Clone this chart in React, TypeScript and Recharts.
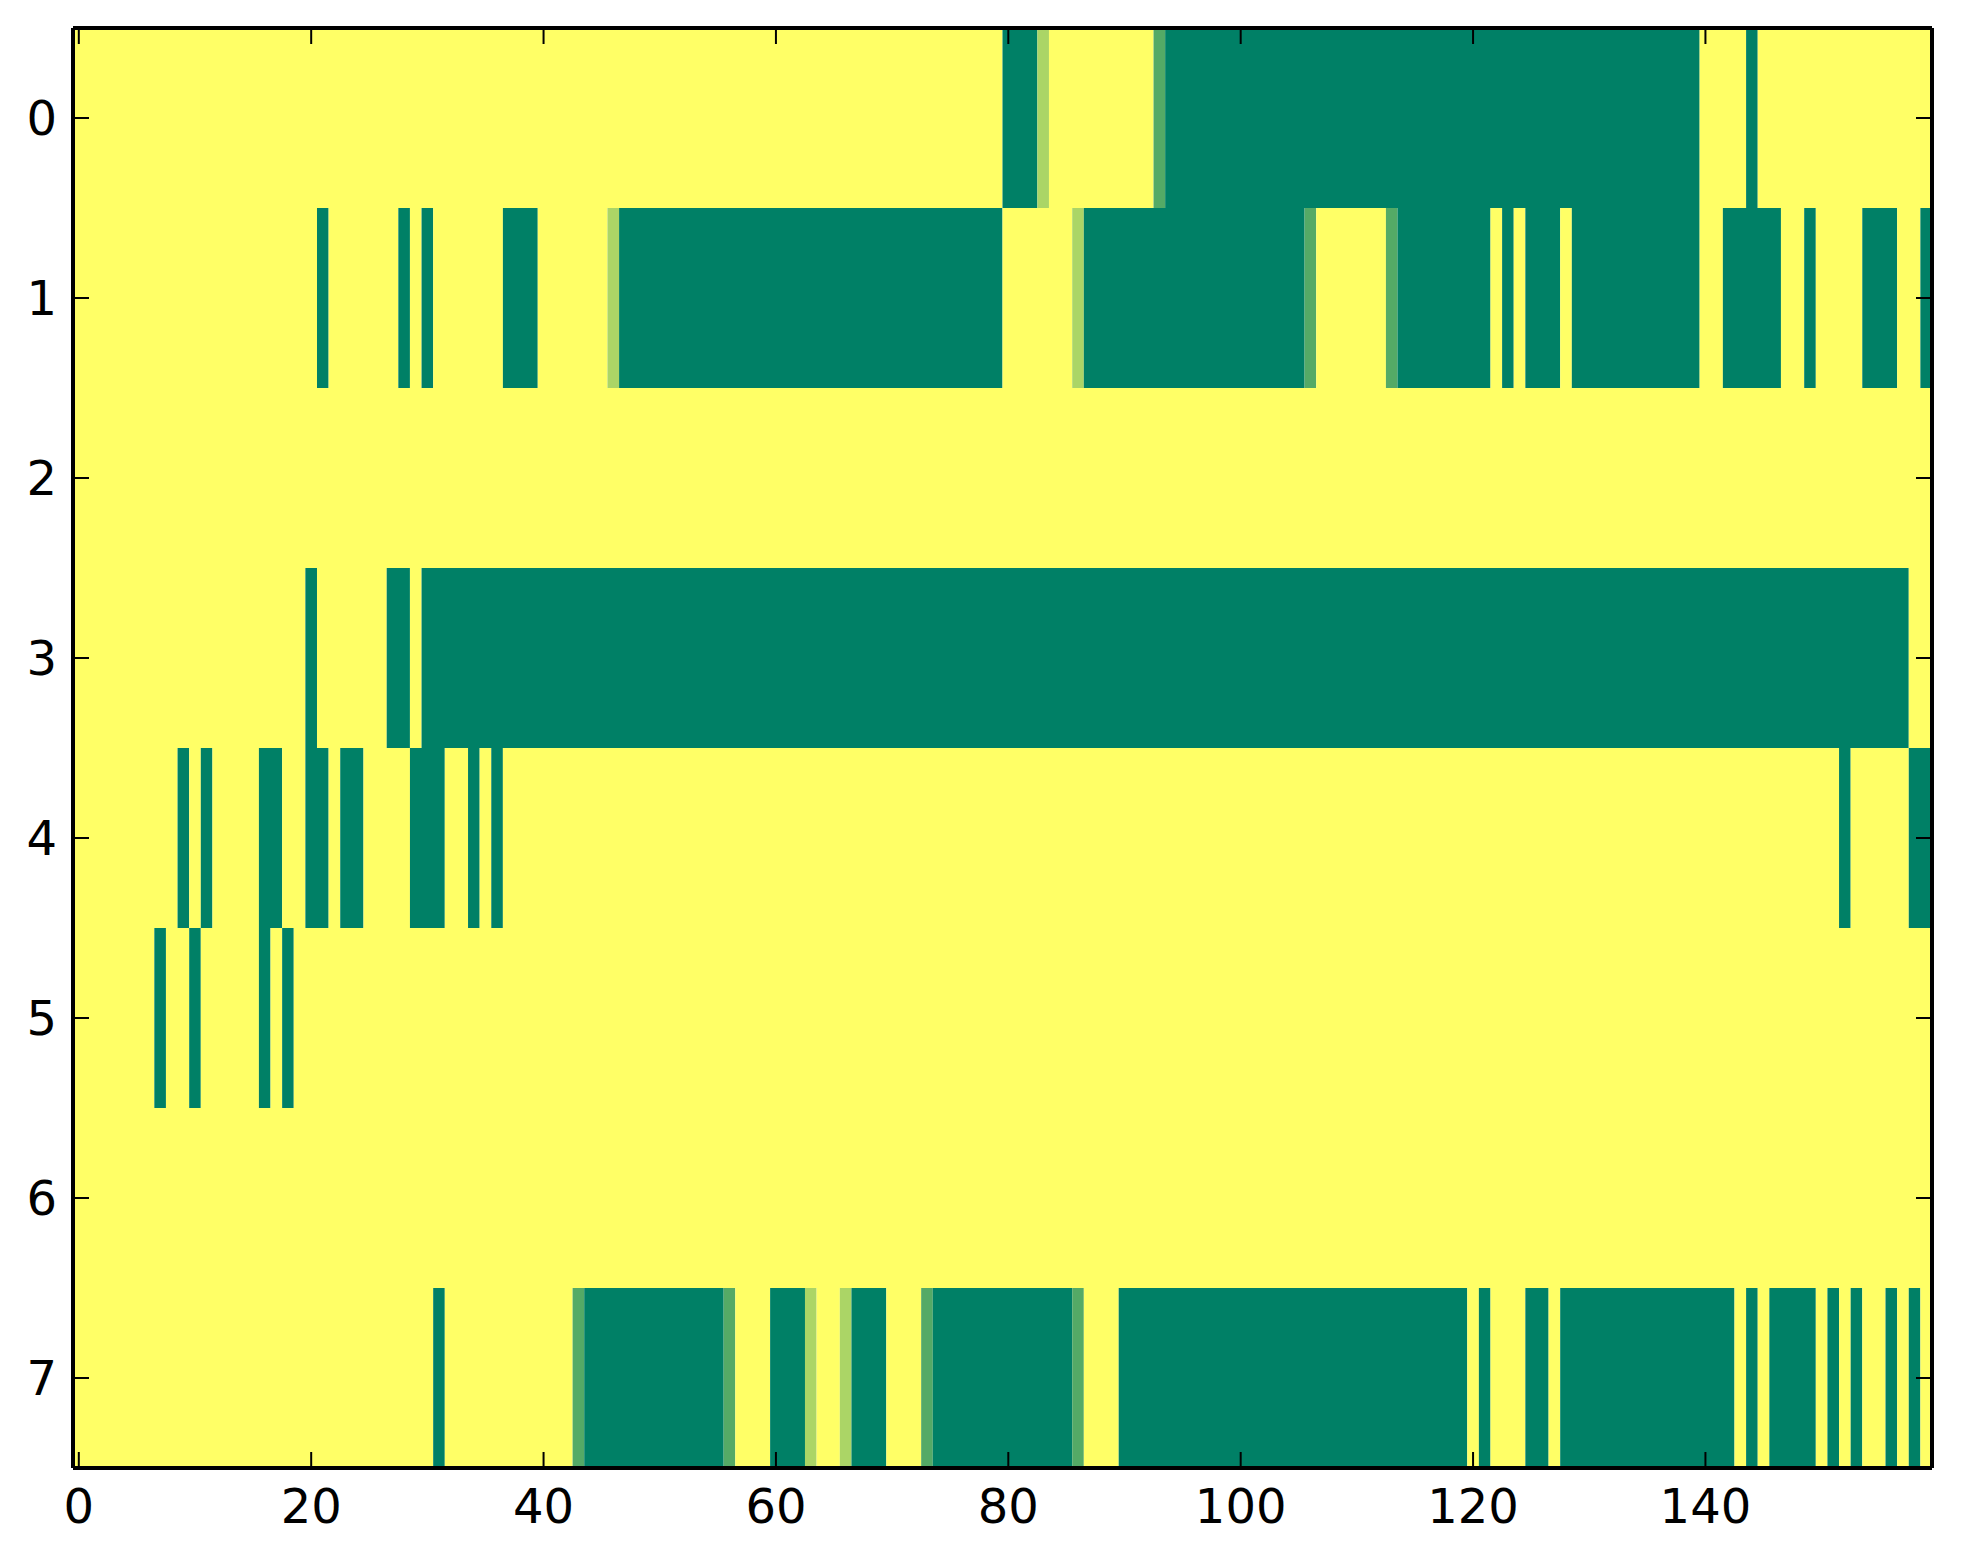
import { ComposedChart, XAxis, YAxis, ReferenceArea, Scatter } from 'recharts';

// [first column, last column, value]; every cell not listed holds 1 (yellow)
type Run = [number, number, number];

const columnCount = 160;
const rowTicks = [0, 1, 2, 3, 4, 5, 6, 7];
const columnTicks = [0, 20, 40, 60, 80, 100, 120, 140];

const row0: Run[] = [[80, 82, 0], [83, 83, 0.67], [93, 93, 0.33], [94, 139, 0], [144, 144, 0]];
const row1: Run[] = [
    [21, 21, 0], [28, 28, 0], [30, 30, 0], [37, 39, 0], [46, 46, 0.67], [47, 79, 0],
    [86, 86, 0.67], [87, 105, 0], [106, 106, 0.33], [113, 113, 0.33], [114, 121, 0],
    [123, 123, 0], [125, 127, 0], [129, 139, 0], [142, 146, 0], [149, 149, 0],
    [154, 156, 0], [159, 159, 0],
];
const row2: Run[] = [];
const row3: Run[] = [[20, 20, 0], [27, 28, 0], [30, 157, 0]];
const row4: Run[] = [
    [9, 9, 0], [11, 11, 0], [16, 17, 0], [20, 21, 0], [23, 24, 0], [29, 31, 0],
    [34, 34, 0], [36, 36, 0], [152, 152, 0], [158, 159, 0],
];
const row5: Run[] = [[7, 7, 0], [10, 10, 0], [16, 16, 0], [18, 18, 0]];
const row6: Run[] = [];
const row7: Run[] = [
    [31, 31, 0], [43, 43, 0.33], [44, 55, 0], [56, 56, 0.33], [60, 62, 0], [63, 63, 0.67],
    [66, 66, 0.67], [67, 69, 0], [73, 73, 0.33], [74, 85, 0], [86, 86, 0.33], [90, 119, 0],
    [121, 121, 0], [125, 126, 0], [128, 142, 0], [144, 144, 0], [146, 149, 0],
    [151, 151, 0], [153, 153, 0], [156, 156, 0], [158, 158, 0],
];

const rows = [row0, row1, row2, row3, row4, row5, row6, row7];

// matplotlib "summer" colormap
const summer = (v: number) =>
    `rgb(${Math.round(255 * v)}, ${Math.round(255 * (0.5 + 0.5 * v))}, 102)`;

// expand each row to its cells, then merge equal neighbours into bands
const bands = rows.flatMap((runs, row) => {
    const cells: number[] = Array(columnCount).fill(1);
    runs.forEach(([from, to, value]) => {
        for (let c = from; c <= to; c++) cells[c] = value;
    });
    const out: { row: number, from: number, to: number, value: number, mid: number }[] = [];
    let start = 0;
    for (let c = 1; c <= columnCount; c++) {
        if (c === columnCount || cells[c] !== cells[start]) {
            out.push({ row, from: start, to: c - 1, value: cells[start], mid: (start + c - 1) / 2 });
            start = c;
        }
    }
    return out;
});

const frame = { stroke: '#000', strokeWidth: 4 };
const tickLine = { stroke: '#000', strokeWidth: 2 };
const tickText = { fill: '#000', fontSize: 48, fontFamily: 'DejaVu Sans' };
const noLabel = () => '';

const App = () => {
    return (
        <div
            style={{ position: 'absolute', left: 0, top: 0, width: 1963, height: 1564, background: '#fff' }}
        >
            <ComposedChart
                width={1963}
                height={1564}
                data={bands}
                margin={{ top: 0, right: 0, bottom: 0, left: 0 }}
            >
                <XAxis
                    xAxisId="bottom"
                    dataKey="mid"
                    type="number"
                    orientation="bottom"
                    domain={[-0.5, columnCount - 0.5]}
                    allowDataOverflow
                    ticks={columnTicks}
                    interval={0}
                    height={96}
                    tickSize={-16}
                    tickMargin={37}
                    axisLine={frame}
                    tickLine={tickLine}
                    tick={tickText}
                />
                <XAxis
                    xAxisId="top"
                    dataKey="mid"
                    type="number"
                    orientation="top"
                    domain={[-0.5, columnCount - 0.5]}
                    allowDataOverflow
                    ticks={columnTicks}
                    interval={0}
                    height={28}
                    tickSize={-16}
                    axisLine={frame}
                    tickLine={tickLine}
                    tickFormatter={noLabel}
                />
                <YAxis
                    yAxisId="left"
                    dataKey="row"
                    type="number"
                    orientation="left"
                    domain={[-0.5, 7.5]}
                    allowDataOverflow
                    reversed
                    ticks={rowTicks}
                    interval={0}
                    width={73}
                    tickSize={-16}
                    tickMargin={32}
                    axisLine={frame}
                    tickLine={tickLine}
                    tick={tickText}
                />
                <YAxis
                    yAxisId="right"
                    dataKey="row"
                    type="number"
                    orientation="right"
                    domain={[-0.5, 7.5]}
                    allowDataOverflow
                    reversed
                    ticks={rowTicks}
                    interval={0}
                    width={31}
                    tickSize={-16}
                    axisLine={frame}
                    tickLine={tickLine}
                    tickFormatter={noLabel}
                />

                {bands.map((b, i) => (
                    <ReferenceArea
                        key={i}
                        xAxisId="bottom"
                        yAxisId="left"
                        x1={b.from - 0.5}
                        x2={b.to + 0.5}
                        y1={b.row - 0.5}
                        y2={b.row + 0.5}
                        fill={summer(b.value)}
                        fillOpacity={1}
                        stroke="none"
                    />
                ))}

                {/* carries the cell data for the axes; the cells themselves are the areas */}
                <Scatter
                    xAxisId="bottom"
                    yAxisId="left"
                    dataKey="row"
                    shape={() => <g />}
                    isAnimationActive={false}
                />
            </ComposedChart>
        </div>
    );
};

export default App;
